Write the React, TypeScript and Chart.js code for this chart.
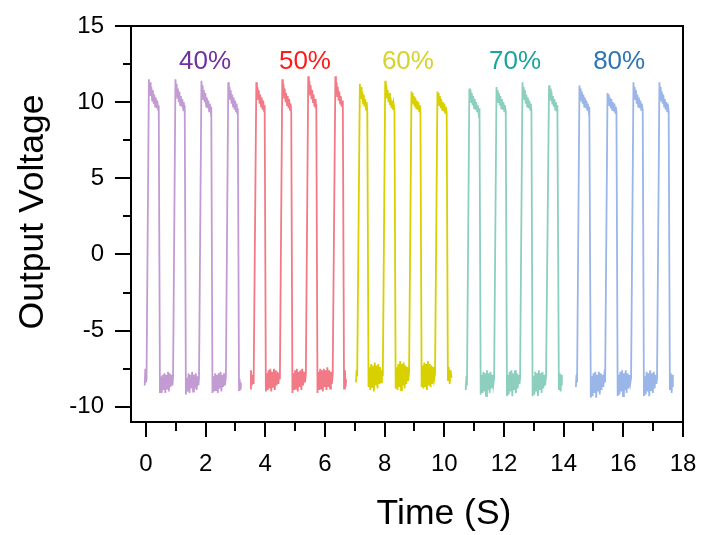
import React, { useEffect, useRef } from "react";
import { Chart, registerables } from "chart.js";

Chart.register(...registerables);

// ---- Data (time in s, output voltage in V) ----
const trace40: [number, number][] = [
  [-0.04,-8.6],[-0.02,-7.5],[0.00,-8.4],[0.02,-8.2],
  [0.10,11.5],[0.12,10.6],[0.14,11.3],[0.16,10.4],[0.18,11.0],[0.21,10.1],[0.23,10.8],[0.26,9.9],[0.28,10.5],[0.31,9.7],[0.33,10.3],[0.36,9.6],[0.38,10.1],[0.41,9.5],[0.43,9.8],
  [0.47,-9.1],
  [0.50,-8.0],[0.53,-9.1],[0.56,-7.9],[0.59,-8.9],[0.62,-7.8],[0.65,-9.1],[0.68,-7.9],[0.71,-8.8],[0.74,-7.7],[0.77,-9.0],[0.80,-7.8],[0.83,-8.7],[0.86,-7.9],[0.89,-8.6],[0.91,-8.0],
  [0.99,11.5],[1.01,10.5],[1.03,11.2],[1.05,10.3],[1.07,10.9],[1.10,10.0],[1.12,10.7],[1.15,9.8],[1.17,10.4],[1.20,9.7],[1.22,10.2],[1.25,9.5],[1.27,10.0],[1.29,9.4],[1.30,9.8],
  [1.34,-9.2],
  [1.37,-8.1],[1.40,-9.0],[1.43,-7.8],[1.46,-9.1],[1.49,-7.9],[1.52,-8.8],[1.55,-7.7],[1.58,-9.0],[1.61,-7.9],[1.64,-8.8],[1.67,-7.8],[1.70,-8.9],[1.73,-8.0],[1.76,-8.6],[1.78,-8.1],
  [1.86,11.4],[1.88,10.5],[1.90,11.1],[1.92,10.2],[1.94,10.8],[1.97,10.0],[1.99,10.6],[2.02,9.7],[2.04,10.3],[2.07,9.6],[2.09,10.1],[2.12,9.4],[2.14,9.9],[2.17,9.4],[2.19,9.7],
  [2.23,-9.1],
  [2.26,-8.0],[2.29,-9.0],[2.32,-7.8],[2.35,-8.9],[2.38,-7.9],[2.41,-9.1],[2.44,-7.8],[2.47,-8.8],[2.50,-7.7],[2.53,-9.0],[2.56,-7.9],[2.59,-8.7],[2.62,-7.8],[2.65,-8.6],[2.68,-8.0],
  [2.76,11.3],[2.78,10.4],[2.80,11.0],[2.82,10.2],[2.84,10.8],[2.87,9.9],[2.89,10.5],[2.92,9.7],[2.94,10.3],[2.97,9.5],[2.99,10.1],[3.02,9.4],[3.04,9.9],[3.06,9.3],[3.08,9.6],
  [3.12,-8.9],
  [3.14,-8.2],[3.16,-8.8],[3.18,-8.4],
];

const trace50: [number, number][] = [
  [3.49,-8.8],[3.52,-7.6],[3.55,-8.6],[3.58,-7.9],[3.61,-8.5],
  [3.70,11.3],[3.72,10.4],[3.74,11.0],[3.76,10.2],[3.78,10.8],[3.81,9.9],[3.83,10.5],[3.86,9.7],[3.88,10.3],[3.91,9.5],[3.93,10.1],[3.96,9.4],[3.98,9.8],
  [4.02,-9.0],
  [4.05,-7.8],[4.08,-8.9],[4.11,-7.6],[4.14,-8.8],[4.17,-7.5],[4.20,-9.0],[4.23,-7.7],[4.26,-8.7],[4.29,-7.5],[4.32,-8.9],[4.35,-7.6],[4.38,-8.6],[4.41,-7.7],[4.44,-8.5],[4.47,-7.8],[4.49,-8.2],
  [4.57,11.5],[4.59,10.6],[4.61,11.2],[4.63,10.3],[4.65,10.9],[4.68,10.0],[4.70,10.6],[4.73,9.8],[4.75,10.4],[4.78,9.6],[4.80,10.2],[4.83,9.5],[4.85,9.9],[4.87,9.4],
  [4.91,-9.1],
  [4.94,-7.8],[4.97,-8.9],[5.00,-7.6],[5.03,-8.8],[5.06,-7.5],[5.09,-9.0],[5.12,-7.7],[5.15,-8.7],[5.18,-7.6],[5.21,-8.9],[5.24,-7.5],[5.27,-8.6],[5.30,-7.7],[5.33,-8.4],[5.36,-7.9],
  [5.44,11.7],[5.46,10.8],[5.48,11.4],[5.50,10.5],[5.52,11.1],[5.55,10.2],[5.57,10.8],[5.60,10.0],[5.62,10.5],[5.65,9.7],[5.67,10.2],[5.69,9.6],[5.71,9.9],
  [5.75,-9.1],
  [5.78,-7.7],[5.81,-8.9],[5.84,-7.5],[5.87,-8.8],[5.90,-7.6],[5.93,-9.0],[5.96,-7.5],[5.99,-8.7],[6.02,-7.6],[6.05,-8.9],[6.08,-7.4],[6.11,-8.7],[6.14,-7.6],[6.17,-8.8],[6.20,-7.7],[6.23,-8.5],[6.26,-7.9],
  [6.35,11.7],[6.37,10.7],[6.39,11.3],[6.41,10.4],[6.43,11.0],[6.46,10.1],[6.48,10.7],[6.51,9.9],[6.53,10.4],[6.56,9.7],[6.58,10.1],[6.60,9.6],
  [6.64,-8.8],
  [6.67,-7.6],[6.69,-8.7],[6.71,-8.2],
];

const trace60: [number, number][] = [
  [7.04,-8.4],[7.06,-7.6],[7.08,-8.0],
  [7.17,11.2],[7.19,10.4],[7.21,11.0],[7.23,10.2],[7.25,10.7],[7.28,9.9],[7.30,10.5],[7.33,9.7],[7.35,10.2],[7.38,9.5],[7.40,10.0],[7.42,9.4],
  [7.46,-8.7],
  [7.49,-7.4],[7.52,-8.9],[7.55,-7.2],[7.58,-8.7],[7.61,-7.3],[7.64,-9.0],[7.67,-7.1],[7.70,-8.6],[7.73,-7.3],[7.76,-8.8],[7.79,-7.2],[7.82,-8.5],[7.85,-7.4],[7.88,-8.4],[7.91,-7.6],[7.94,-8.0],
  [8.02,11.4],[8.04,10.5],[8.06,11.1],[8.08,10.3],[8.10,10.8],[8.13,10.0],[8.15,10.6],[8.18,9.8],[8.20,10.3],[8.23,9.6],[8.25,10.1],[8.28,9.5],[8.30,9.9],[8.33,9.4],
  [8.37,-8.8],
  [8.40,-7.4],[8.43,-8.9],[8.46,-7.2],[8.49,-8.7],[8.52,-7.0],[8.55,-8.9],[8.58,-7.2],[8.61,-8.6],[8.64,-7.1],[8.67,-8.8],[8.70,-7.3],[8.73,-8.5],[8.76,-7.4],[8.79,-8.3],[8.82,-7.7],
  [8.90,10.7],[8.92,10.0],[8.94,10.6],[8.96,9.9],[8.98,10.4],[9.01,9.7],[9.03,10.3],[9.06,9.6],[9.08,10.1],[9.11,9.5],[9.13,10.0],[9.16,9.4],[9.18,9.8],[9.20,9.4],
  [9.24,-8.7],
  [9.27,-7.3],[9.30,-8.8],[9.33,-7.1],[9.36,-8.7],[9.39,-7.2],[9.42,-8.9],[9.45,-7.0],[9.48,-8.6],[9.51,-7.2],[9.54,-8.7],[9.57,-7.3],[9.60,-8.5],[9.63,-7.4],[9.66,-8.2],[9.69,-7.8],
  [9.77,10.7],[9.79,10.0],[9.81,10.6],[9.83,9.8],[9.85,10.4],[9.88,9.6],[9.90,10.2],[9.93,9.5],[9.95,10.0],[9.98,9.4],[10.00,9.9],[10.03,9.3],[10.05,9.7],[10.08,9.3],
  [10.12,-8.3],
  [10.15,-7.4],[10.18,-8.5],[10.21,-7.6],[10.24,-8.1],
];

const trace70: [number, number][] = [
  [10.72,-8.9],[10.74,-8.0],[10.76,-8.6],
  [10.84,10.9],[10.86,10.2],[10.88,10.8],[10.90,10.0],[10.92,10.6],[10.95,9.8],[10.97,10.4],[11.00,9.6],[11.02,10.2],[11.05,9.5],[11.07,10.0],[11.10,9.4],[11.12,9.8],[11.15,9.3],[11.18,9.6],
  [11.22,-9.2],
  [11.25,-7.9],[11.28,-9.1],[11.31,-7.7],[11.34,-9.0],[11.37,-7.8],[11.40,-9.3],[11.43,-7.6],[11.46,-8.9],[11.49,-7.8],[11.52,-9.1],[11.55,-7.7],[11.58,-8.8],[11.61,-7.9],[11.64,-8.6],[11.67,-8.1],
  [11.75,11.0],[11.77,10.2],[11.79,10.8],[11.81,10.0],[11.83,10.6],[11.86,9.8],[11.88,10.4],[11.91,9.6],[11.93,10.2],[11.96,9.5],[11.98,10.0],[12.01,9.4],[12.03,9.8],[12.06,9.4],
  [12.10,-9.3],
  [12.13,-7.9],[12.16,-9.2],[12.19,-7.7],[12.22,-9.0],[12.25,-7.6],[12.28,-9.3],[12.31,-7.8],[12.34,-8.9],[12.37,-7.6],[12.40,-9.1],[12.43,-7.8],[12.46,-8.8],[12.49,-7.9],[12.52,-8.5],[12.54,-8.1],
  [12.62,11.3],[12.64,10.4],[12.66,11.0],[12.68,10.2],[12.70,10.8],[12.73,9.9],[12.75,10.5],[12.78,9.7],[12.80,10.3],[12.83,9.6],[12.85,10.1],[12.88,9.5],[12.90,9.9],[12.92,9.5],
  [12.96,-9.3],
  [12.99,-8.0],[13.02,-9.2],[13.05,-7.7],[13.08,-9.0],[13.11,-7.8],[13.14,-9.3],[13.17,-7.6],[13.20,-8.9],[13.23,-7.8],[13.26,-9.1],[13.29,-7.7],[13.32,-8.8],[13.35,-7.9],[13.38,-8.6],[13.41,-8.0],
  [13.51,11.1],[13.53,10.3],[13.55,10.9],[13.57,10.1],[13.59,10.7],[13.62,9.9],[13.64,10.4],[13.67,9.7],[13.69,10.2],[13.72,9.5],[13.74,10.0],[13.77,9.4],[13.79,9.8],
  [13.84,-8.9],
  [13.87,-7.8],[13.90,-9.0],[13.92,-7.9],[13.94,-8.6],
];

const trace80: [number, number][] = [
  [14.41,-8.7],[14.43,-7.9],[14.45,-8.4],
  [14.53,11.1],[14.55,10.3],[14.57,10.9],[14.59,10.1],[14.61,10.7],[14.64,9.9],[14.66,10.5],[14.69,9.7],[14.71,10.3],[14.74,9.6],[14.76,10.1],[14.79,9.5],[14.81,9.9],[14.84,9.4],[14.86,9.7],
  [14.91,-9.4],
  [14.94,-8.0],[14.97,-9.3],[15.00,-7.8],[15.03,-9.1],[15.06,-7.7],[15.09,-9.4],[15.12,-7.9],[15.15,-9.0],[15.18,-7.7],[15.21,-9.2],[15.24,-7.8],[15.27,-8.9],[15.30,-7.9],[15.33,-8.7],[15.36,-8.0],[15.39,-8.4],
  [15.47,10.6],[15.49,9.9],[15.51,10.5],[15.53,9.8],[15.55,10.3],[15.58,9.6],[15.60,10.2],[15.63,9.5],[15.65,10.0],[15.68,9.4],[15.70,9.9],[15.73,9.3],[15.75,9.7],[15.77,9.3],
  [15.81,-9.3],
  [15.84,-7.9],[15.87,-9.2],[15.90,-7.7],[15.93,-9.0],[15.96,-7.6],[15.99,-9.3],[16.02,-7.8],[16.05,-8.9],[16.08,-7.6],[16.11,-9.1],[16.14,-7.8],[16.17,-8.8],[16.20,-7.9],[16.23,-8.5],[16.26,-8.1],
  [16.34,11.3],[16.36,10.4],[16.38,11.0],[16.40,10.2],[16.42,10.8],[16.45,9.9],[16.47,10.5],[16.50,9.7],[16.52,10.3],[16.55,9.6],[16.57,10.1],[16.60,9.5],[16.62,9.9],[16.65,9.5],
  [16.69,-9.3],
  [16.72,-8.0],[16.75,-9.2],[16.78,-7.7],[16.81,-9.0],[16.84,-7.8],[16.87,-9.3],[16.90,-7.6],[16.93,-8.9],[16.96,-7.8],[16.99,-9.1],[17.02,-7.7],[17.05,-8.8],[17.08,-7.9],[17.11,-8.5],[17.13,-8.1],
  [17.21,11.3],[17.23,10.4],[17.25,11.0],[17.27,10.1],[17.29,10.7],[17.32,9.9],[17.34,10.5],[17.37,9.7],[17.39,10.2],[17.42,9.5],[17.44,10.0],[17.47,9.4],[17.49,9.9],[17.52,9.4],
  [17.56,-8.9],
  [17.59,-7.8],[17.62,-9.1],[17.64,-7.9],[17.66,-8.7],
];

const traces = [trace40, trace50, trace60, trace70, trace80];
const groupLabels = ["40%", "50%", "60%", "70%", "80%"];
const labelX = [1.98, 5.33, 8.78, 12.37, 15.86];
const labelY = [12.65, 12.65, 12.65, 12.65, 12.65];
const traceColors = ["#C39BD3", "#F27A86", "#D9D000", "#8CCFBF", "#9AB5E8"];
const labelColors = ["#7030A0", "#FF1A1A", "#D8D22E", "#1BA39C", "#2E75B6"];

const xMajorTicks = [0, 2, 4, 6, 8, 10, 12, 14, 16, 18];
const xMinorTicks = [1, 3, 5, 7, 9, 11, 13, 15, 17];
const yMajorTicks = [-10, -5, 0, 5, 10, 15];
const yMinorTicks = [-7.5, -2.5, 2.5, 7.5, 12.5];

const xTitle = "Time (S)";
const yTitle = "Output Voltage";

const FONT = "'Liberation Sans', Arial, Helvetica, sans-serif";

const decoPlugin = {
  id: "deco",
  afterDraw(chart: any) {
    const { ctx, chartArea } = chart;
    const { left, right, top, bottom } = chartArea;
    const xs = chart.scales.x;
    const ys = chart.scales.y;
    ctx.save();
    ctx.strokeStyle = "#000";
    ctx.lineWidth = 2;
    ctx.lineCap = "butt";
    ctx.strokeRect(left, top, right - left, bottom - top);
    ctx.beginPath();
    yMajorTicks.forEach((v) => {
      const p = Math.round(ys.getPixelForValue(v));
      ctx.moveTo(left - 16, p);
      ctx.lineTo(left, p);
    });
    yMinorTicks.forEach((v) => {
      const p = Math.round(ys.getPixelForValue(v));
      ctx.moveTo(left - 8, p);
      ctx.lineTo(left, p);
    });
    xMajorTicks.forEach((v) => {
      const p = Math.round(xs.getPixelForValue(v));
      ctx.moveTo(p, bottom);
      ctx.lineTo(p, bottom + 15);
    });
    xMinorTicks.forEach((v) => {
      const p = Math.round(xs.getPixelForValue(v));
      ctx.moveTo(p, bottom);
      ctx.lineTo(p, bottom + 9);
    });
    ctx.stroke();

    // tick labels
    ctx.fillStyle = "#000";
    ctx.font = `24px ${FONT}`;
    ctx.textBaseline = "middle";
    ctx.textAlign = "right";
    yMajorTicks.forEach((v) => {
      ctx.fillText(String(v), left - 27, ys.getPixelForValue(v));
    });
    ctx.textAlign = "center";
    xMajorTicks.forEach((v) => {
      ctx.fillText(String(v), xs.getPixelForValue(v), bottom + 42);
    });

    // axis titles
    ctx.font = `35.5px ${FONT}`;
    ctx.fillText(xTitle, 444, 514);
    ctx.save();
    ctx.translate(33, 212);
    ctx.rotate(-Math.PI / 2);
    ctx.fillText(yTitle, 0, 0);
    ctx.restore();

    // group labels
    ctx.font = `26px ${FONT}`;
    groupLabels.forEach((t, i) => {
      ctx.fillStyle = labelColors[i];
      ctx.fillText(t, xs.getPixelForValue(labelX[i]), ys.getPixelForValue(labelY[i]));
    });
    ctx.restore();
  },
};

export default function App() {
  const ref = useRef<HTMLCanvasElement | null>(null);
  useEffect(() => {
    if (!ref.current) return;
    const chart = new Chart(ref.current, {
      type: "scatter",
      data: {
        datasets: traces.map((tr, i) => ({
          label: groupLabels[i],
          data: tr.map(([x, y]) => ({ x, y })),
          showLine: true,
          borderColor: traceColors[i],
          backgroundColor: traceColors[i],
          borderWidth: 1.8,
          pointRadius: 0,
          tension: 0,
        })),
      },
      plugins: [decoPlugin],
      options: {
        animation: false,
        responsive: false,
        devicePixelRatio: 1,
        layout: { padding: { left: 0, right: 20, top: 26, bottom: 0 } },
        plugins: { legend: { display: false }, tooltip: { enabled: false } },
        scales: {
          x: {
            type: "linear",
            min: -0.5,
            max: 18,
            afterBuildTicks: (s: any) => {
              s.ticks = xMajorTicks.map((v) => ({ value: v }));
            },
            afterFit: (s: any) => {
              s.height = 113;
            },
            grid: { display: false, drawTicks: false },
            border: { display: false },
            ticks: { display: false },
          },
          y: {
            type: "linear",
            min: -11,
            max: 15,
            afterBuildTicks: (s: any) => {
              s.ticks = yMajorTicks.map((v) => ({ value: v }));
            },
            afterFit: (s: any) => {
              s.width = 131;
            },
            grid: { display: false, drawTicks: false },
            border: { display: false },
            ticks: { display: false },
          },
        },
      },
    });
    return () => chart.destroy();
  }, []);
  return (
    <div style={{ position: "fixed", left: 0, top: 0, width: 703, height: 535, background: "#fff" }}>
      <canvas ref={ref} width={703} height={535} style={{ display: "block" }} />
    </div>
  );
}
